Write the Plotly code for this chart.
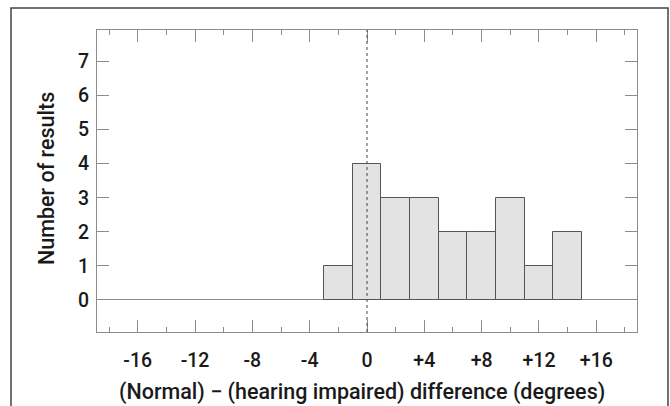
import plotly.graph_objects as go

bin_centers = [-2, 0, 2, 4, 6, 8, 10, 12, 14]
counts = [1, 4, 3, 3, 2, 2, 3, 1, 2]
bin_width = 2
x_tickvals = [-16, -12, -8, -4, 0, 4, 8, 12, 16]
x_ticktext = ["-16", "-12", "-8", "-4", "0", "+4", "+8", "+12", "+16"]
y_tickvals = [0, 1, 2, 3, 4, 5, 6, 7]
x_title = "(Normal) \u2212 (hearing impaired) difference (degrees)"
y_title = "Number of results"

FONT = "Roboto, Roboto Condensed, sans-serif"
AX = "#8c8c8c"
TXT = "#1a1a1a"

fig = go.Figure()
fig.add_trace(go.Bar(
    x=bin_centers, y=counts, width=[bin_width] * len(counts),
    marker=dict(color="#e3e3e3", line=dict(color="#555555", width=1)),
    showlegend=False, hoverinfo="x+y",
))

W, H = 670, 406
L, R, T, B = 97, 33, 30, 74
pw, ph = W - L - R, H - T - B

fig.update_layout(
    width=W, height=H,
    margin=dict(l=L, r=R, t=T, b=B, autoexpand=False),
    paper_bgcolor="white", plot_bgcolor="white",
    font=dict(family=FONT, size=19.5, color=TXT, weight=500),
    bargap=0,
    xaxis=dict(
        range=[-18.84, 18.84], automargin=False,
        tickmode="array", tickvals=x_tickvals, ticktext=x_ticktext,
        ticks="inside", ticklen=12, tickcolor=AX, tickwidth=1,
        minor=dict(dtick=2, tick0=0, ticks="inside", ticklen=5, tickcolor=AX, tickwidth=1),
        showline=True, linecolor=AX, linewidth=1.2, mirror="ticks",
        showgrid=False, zeroline=False,
        ticklabelstandoff=10,
    ),
    yaxis=dict(
        range=[-0.94, 7.92], automargin=False,
        tickmode="array", tickvals=y_tickvals,
        ticks="inside", ticklen=12, tickcolor=AX, tickwidth=1,
        showline=True, linecolor=AX, linewidth=1.2, mirror="ticks",
        showgrid=False,
        zeroline=True, zerolinecolor=AX, zerolinewidth=1.2,
        ticklabelstandoff=3,
    ),
    annotations=[
        dict(text=x_title, xref="paper", yref="paper",
             x=(362 - L) / pw, y=(H - B - 392) / ph, xanchor="center", yanchor="middle",
             showarrow=False, font=dict(size=21.5, color=TXT, weight=500)),
        dict(text=y_title, xref="paper", yref="paper", textangle=-90,
             x=(46 - L) / pw, y=(H - B - 179) / ph, xanchor="center", yanchor="middle",
             showarrow=False, font=dict(size=21.5, color=TXT, weight=500)),
    ],
    shapes=[
        dict(type="line", xref="x", yref="paper", x0=0, x1=0, y0=0, y1=1,
             line=dict(color="#444444", width=1, dash="dot")),
        dict(type="rect", xref="paper", yref="paper",
             x0=(11 - L) / pw, x1=(668 - L) / pw,
             y0=-0.5, y1=(H - B - 8) / ph,
             line=dict(color="#444444", width=1.5)),
    ],
)

fig.write_html("out.html", config={"displayModeBar": False},
               post_script="document.body.style.margin='0';document.body.style.overflow='hidden';")
